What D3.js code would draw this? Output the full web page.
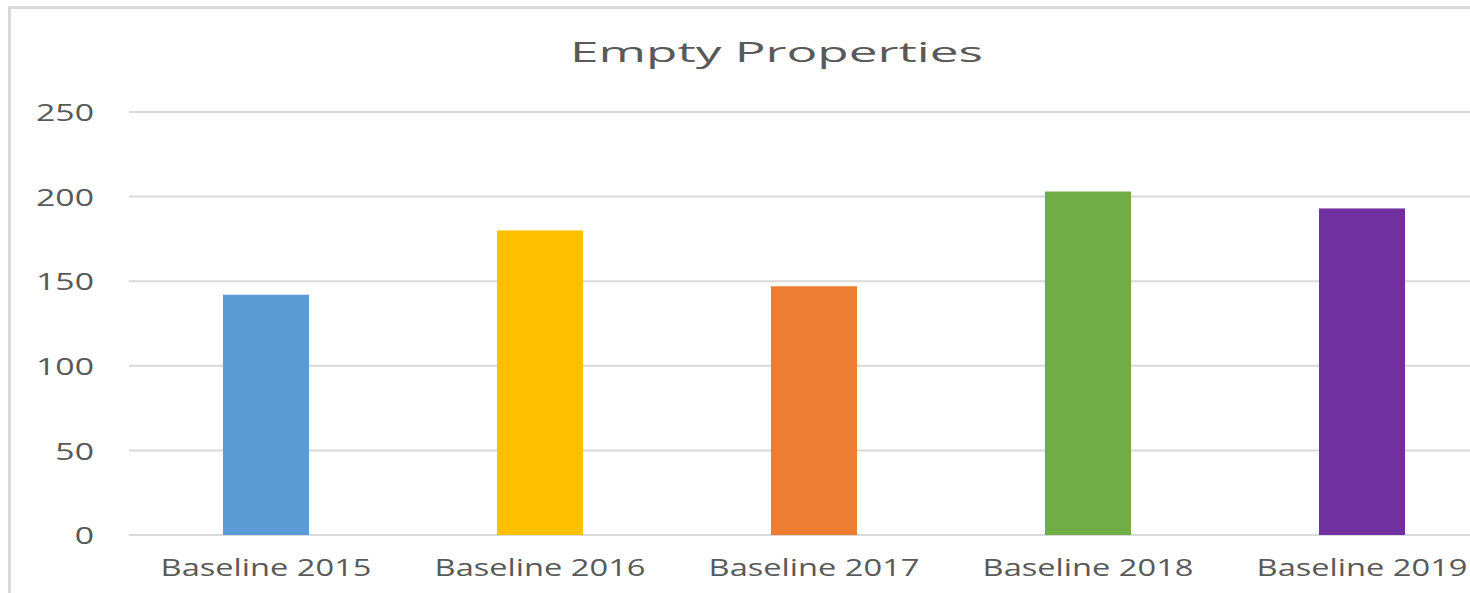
<!DOCTYPE html>
<html>
<head>
<meta charset="utf-8">
<script src="https://cdn.jsdelivr.net/npm/d3@7"></script>
<style>
  html, body { margin: 0; padding: 0; background: #fff; overflow: hidden; }
  svg { display: block; }
  text { font-family: "Open Sans", "Noto Sans", sans-serif; fill: #595959; }
</style>
</head>
<body>
<svg id="chart" width="1470" height="593"></svg>
<script>
const title = "Empty Properties";
const categories = ["Baseline 2015", "Baseline 2016", "Baseline 2017", "Baseline 2018", "Baseline 2019"];
const values = [142, 180, 147, 203, 193];
const colors = ["#5B9BD5", "#FFC000", "#ED7D31", "#70AD47", "#7030A0"];
const yTicks = [0, 50, 100, 150, 200, 250];

const svg = d3.select("#chart");
const W = 1470, H = 593;

// outer chart border
svg.append("rect")
  .attr("x", 9.5).attr("y", 7.5)
  .attr("width", 1600).attr("height", 700)
  .attr("fill", "#fff")
  .attr("stroke", "#d9d9d9").attr("stroke-width", 3);

const plot = { left: 129, right: 1499, top: 112, bottom: 535 };

const x = d3.scaleBand().domain(categories).range([plot.left, plot.right]).paddingInner(0.686).paddingOuter(0.343);
const y = d3.scaleLinear().domain([0, 250]).range([plot.bottom, plot.top]);

// gridlines
svg.append("g").selectAll("line").data(yTicks).join("line")
  .attr("x1", plot.left).attr("x2", plot.right)
  .attr("y1", d => y(d)).attr("y2", d => y(d))
  .attr("stroke", "#d9d9d9").attr("stroke-width", 2);

// bars
svg.append("g").selectAll("rect").data(values).join("rect")
  .attr("x", (d, i) => x(categories[i]))
  .attr("width", x.bandwidth())
  .attr("y", d => y(d))
  .attr("height", d => y(0) - y(d))
  .attr("fill", (d, i) => colors[i]);

// y axis
const yAxis = svg.append("g").attr("transform", `translate(${plot.left},0)`)
  .call(d3.axisLeft(y).tickValues(yTicks).tickSize(0).tickPadding(0));
yAxis.select(".domain").remove();
yAxis.selectAll("text")
  .attr("font-size", 24).attr("fill", "#595959")
  .style("font-family", '"Open Sans", sans-serif')
  .attr("x", null).attr("dy", "0.36em");
const w250 = yAxis.selectAll("text").filter(d => d === 250).node().getComputedTextLength();
const sy = 58 / w250;
yAxis.selectAll("text").attr("transform", `translate(-35,0) scale(${sy},1)`);

// x axis
const xAxis = svg.append("g").attr("transform", `translate(0,${plot.bottom})`)
  .call(d3.axisBottom(x).tickSize(0).tickPadding(0));
xAxis.select(".domain").remove();
xAxis.selectAll("text")
  .attr("font-size", 24).attr("fill", "#595959")
  .style("font-family", '"Open Sans", sans-serif')
  .attr("y", null).attr("dy", null);
const wx = xAxis.select("text").node().getComputedTextLength();
const sxx = 211 / wx;
xAxis.selectAll("text").attr("transform", `translate(0,41) scale(${sxx},1)`);

// title
const t = svg.append("text")
  .attr("text-anchor", "middle")
  .attr("font-size", 28)
  .text(title);
const wt = t.node().getComputedTextLength();
t.attr("transform", `translate(776.5,62) scale(${413 / wt},1)`);
</script>
</body>
</html>
